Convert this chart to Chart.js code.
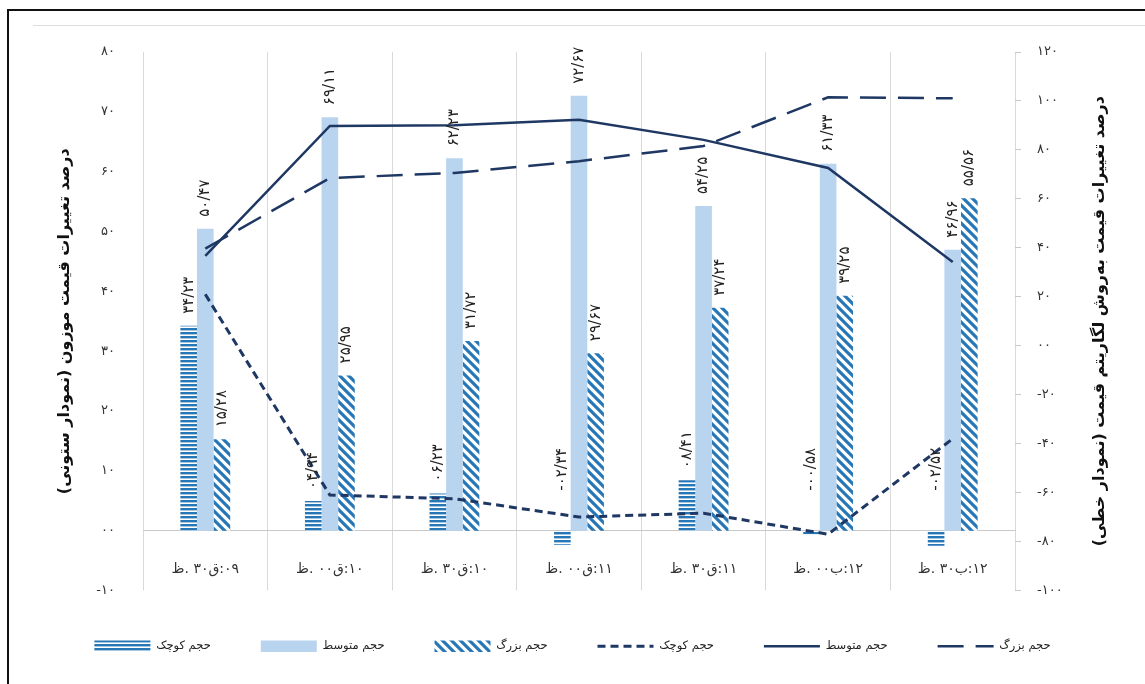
<!DOCTYPE html>
<html>
<head>
<meta charset="utf-8">
<script src="https://cdn.jsdelivr.net/npm/chart.js@4.4.1/dist/chart.umd.min.js"></script>
<style>
  html, body { margin: 0; padding: 0; background: #fff; }
  #wrap { position: relative; width: 1145px; height: 684px; overflow: hidden; }
  #frame { position: absolute; left: 7px; top: 9px; width: 1200px; height: 700px;
           border-left: 2px solid #111; border-top: 2px solid #111; pointer-events: none; }
  #rule { position: absolute; left: 33px; right: 0; top: 25px; border-top: 1px solid #ddd; pointer-events: none; }
</style>
</head>
<body>
<div id="wrap">
  <canvas id="prices" width="1145" height="684"></canvas>
  <div id="frame"></div>
  <div id="rule"></div>
</div>
<script>
// time slots, as they appear left to right in the picture
const categories = ['ظ. ۳۰ق:۰۹', 'ظ. ۰۰ق:۱۰', 'ظ. ۳۰ق:۱۰', 'ظ. ۰۰ق:۱۱', 'ظ. ۳۰ق:۱۱', 'ظ. ۰۰ب:۱۲', 'ظ. ۳۰ب:۱۲'];
const seriesNames = ['حجم کوچک', 'حجم متوسط', 'حجم بزرگ'];

// weighted price change (bars, left axis)
const smallBar = [34.23, 4.94, 6.23, -2.34, 8.41, -0.58, -2.52];
const mediumBar = [50.47, 69.11, 62.23, 72.67, 54.25, 61.33, 46.96];
const largeBar = [15.28, 25.95, 31.72, 29.67, 37.24, 39.25, 55.56];

// log price change (lines, right axis)
const smallLine = [21, -61, -62.5, -70, -68.4, -77, -38];
const mediumLine = [36.7, 89.8, 90.1, 92.3, 84.1, 72.6, 34.2];
const largeLine = [39.7, 68.5, 70.6, 75.4, 81.6, 101.5, 101.1];

const leftTicks = ['-۱۰', '۰۰', '۱۰', '۲۰', '۳۰', '۴۰', '۵۰', '۶۰', '۷۰', '۸۰'];
const rightTicks = ['-۱۰۰', '-۸۰', '-۶۰', '-۴۰', '-۲۰', '۰۰', '۲۰', '۴۰', '۶۰', '۸۰', '۱۰۰', '۱۲۰'];

const leftTitle = 'درصد تغییرات قیمت موزون (نمودار ستونی)';
const rightTitle = 'درصد تغییرات قیمت به‌روش لگاریتم قیمت (نمودار خطی)';

const FONT = '"DejaVu Sans", sans-serif';
const NAVY = '#1f3763';
const STRIPE = '#2776b6';
const LIGHT = '#b9d4ee';

const faDigits = '۰۱۲۳۴۵۶۷۸۹';
function fa(s) { return String(s).replace(/[0-9]/g, d => faDigits[d]); }
function barText(v) {
  const parts = Math.abs(v).toFixed(2).split('.');
  return (v < 0 ? '-' : '') + fa(parts[0].padStart(2, '0')) + '/' + fa(parts[1]);
}

function hStripes(color) {
  const c = document.createElement('canvas');
  c.width = 4; c.height = 4;
  const g = c.getContext('2d');
  g.fillStyle = '#fff'; g.fillRect(0, 0, 4, 4);
  g.fillStyle = color; g.fillRect(0, 0, 4, 2.4);
  return g.createPattern(c, 'repeat');
}
function dStripes(color) {
  const s = 9;
  const c = document.createElement('canvas');
  c.width = s; c.height = s;
  const g = c.getContext('2d');
  g.fillStyle = '#fff'; g.fillRect(0, 0, s, s);
  g.strokeStyle = color; g.lineWidth = 3.2;
  g.beginPath();
  g.moveTo(-2, -2); g.lineTo(s + 2, s + 2);
  g.moveTo(-3, s - 3); g.lineTo(3, s + 3);
  g.moveTo(s - 3, -3); g.lineTo(s + 3, 3);
  g.stroke();
  return g.createPattern(c, 'repeat');
}

// rotated value labels above the bars
const barLabels = {
  id: 'barLabels',
  afterDatasetsDraw(chart) {
    const ctx = chart.ctx;
    const zero = chart.scales.y.getPixelForValue(0);
    ctx.save();
    ctx.font = '15px ' + FONT;
    ctx.fillStyle = '#222';
    ctx.textAlign = 'left';
    ctx.textBaseline = 'middle';
    chart.data.datasets.forEach((ds, i) => {
      if (ds.type !== 'bar') return;
      chart.getDatasetMeta(i).data.forEach((bar, j) => {
        const v = ds.data[j];
        const y0 = v >= 0 ? bar.y - 12 : zero - 40;
        ctx.save();
        ctx.translate(bar.x, y0);
        ctx.rotate(-Math.PI / 2);
        ctx.fillText(barText(v), 0, 0);
        ctx.restore();
      });
    });
    ctx.restore();
  }
};

// right axis title reads bottom-to-top like the left one
const sideTitle = {
  id: 'sideTitle',
  afterDraw(chart) {
    const {ctx, chartArea} = chart;
    ctx.save();
    ctx.translate(chart.scales.y2.right - 45, (chartArea.top + chartArea.bottom) / 2);
    ctx.rotate(-Math.PI / 2);
    ctx.direction = 'rtl';
    ctx.font = 'bold 16px ' + FONT;
    ctx.fillStyle = '#111';
    ctx.textAlign = 'center';
    ctx.textBaseline = 'middle';
    ctx.fillText(rightTitle, 0, 0);
    ctx.restore();
  }
};

const ctx = document.getElementById('prices').getContext('2d');
const patSmall = hStripes(STRIPE);
const patLarge = dStripes(STRIPE);

const chart = new Chart(ctx, {
  type: 'bar',
  data: {
    labels: categories,
    datasets: [
      { type: 'bar', label: seriesNames[0], data: smallBar, backgroundColor: patSmall, yAxisID: 'y' },
      { type: 'bar', label: seriesNames[1], data: mediumBar, backgroundColor: LIGHT, yAxisID: 'y' },
      { type: 'bar', label: seriesNames[2], data: largeBar, backgroundColor: patLarge, yAxisID: 'y' },
      { type: 'line', label: seriesNames[0], data: smallLine, yAxisID: 'y2', order: -1,
        borderColor: NAVY, backgroundColor: NAVY, borderWidth: 3, borderDash: [8, 5], pointRadius: 0, fill: false },
      { type: 'line', label: seriesNames[1], data: mediumLine, yAxisID: 'y2', order: -1,
        borderColor: NAVY, backgroundColor: NAVY, borderWidth: 2.5, pointRadius: 0, fill: false },
      { type: 'line', label: seriesNames[2], data: largeLine, yAxisID: 'y2', order: -1,
        borderColor: NAVY, backgroundColor: NAVY, borderWidth: 2.5, borderDash: [26, 12], pointRadius: 0, fill: false }
    ]
  },
  options: {
    responsive: false,
    animation: false,
    layout: { padding: { left: 0, right: 0, top: 52, bottom: 22 } },
    datasets: { bar: { categoryPercentage: 0.4, barPercentage: 1.0 } },
    scales: {
      x: {
        position: { y: 0 },
        offset: true,
        grid: { offset: true, color: '#d9d9d9', drawTicks: false },
        border: { color: '#c8c8c8' },
        ticks: {
          padding: 30,
          color: '#333',
          font: { family: FONT, size: 14 },
          callback: (v, i) => '\u202D' + categories[i] + '\u202C'
        }
      },
      y: {
        position: 'left',
        min: -10, max: 80,
        grid: { display: false, drawTicks: false },
        border: { display: false },
        ticks: { stepSize: 10, padding: 28, color: '#333', font: { family: FONT, size: 13 },
                 callback: (v, i) => leftTicks[i] },
        title: { display: true, text: leftTitle + '\u200F', color: '#111',
                 font: { family: FONT, size: 16, weight: 'bold' }, padding: { top: 55, bottom: 0 } },
        afterFit: s => { s.width = 143; }
      },
      y2: {
        position: 'right',
        min: -100, max: 120,
        grid: { drawOnChartArea: false, drawTicks: true, tickLength: 6, color: '#c8c8c8' },
        border: { display: false },
        ticks: { stepSize: 20, padding: 16, color: '#333', font: { family: FONT, size: 13 },
                 callback: (v, i) => rightTicks[i] },
        afterFit: s => { s.width = 130; }
      }
    },
    plugins: {
      tooltip: { enabled: false },
      legend: {
        position: 'bottom',
        labels: {
          usePointStyle: true,
          pointStyleWidth: 56,
          boxHeight: 12,
          padding: 50,
          color: '#222',
          font: { family: FONT, size: 11.5 },
          sort: (a, b) => a.datasetIndex - b.datasetIndex,
          generateLabels(chart) {
            const items = Chart.defaults.plugins.legend.labels.generateLabels(chart);
            items.forEach(it => {
              const ds = chart.data.datasets[it.datasetIndex];
              if (ds.type === 'line') {
                it.pointStyle = 'line';
                it.lineWidth = ds.borderWidth;
                it.lineDash = ds.borderDash || [];
              } else {
                it.pointStyle = 'rect';
                it.lineWidth = 0;
              }
            });
            return items;
          }
        }
      }
    }
  },
  plugins: [barLabels, sideTitle]
});
</script>
</body>
</html>
